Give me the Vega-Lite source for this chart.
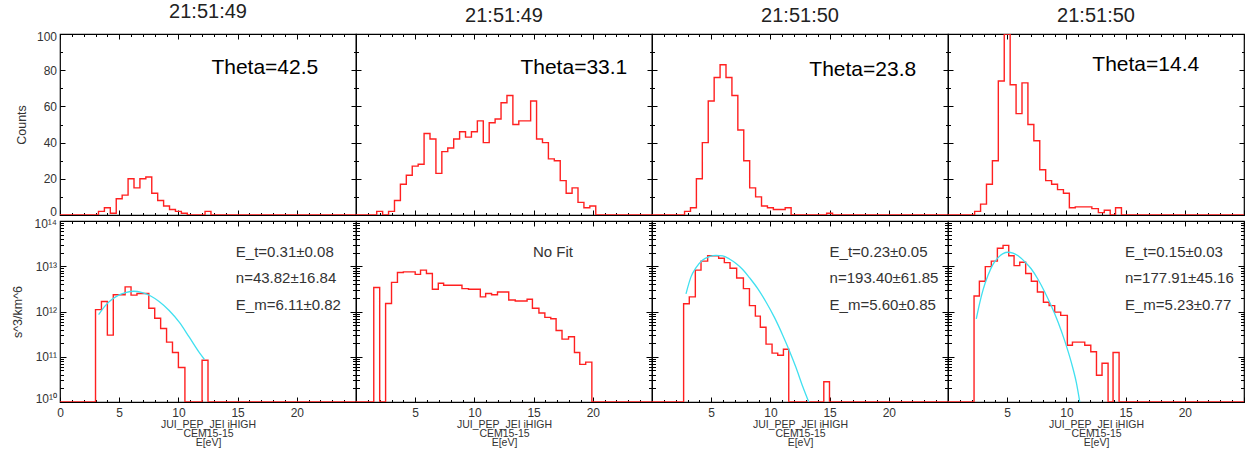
{
  "$schema": "https://vega.github.io/schema/vega-lite/v6.json",
  "background": "white",
  "padding": {"left": 10, "top": 1, "right": 5, "bottom": 0},
  "config": {
    "view": {"stroke": "black", "strokeWidth": 1.2},
    "axis": {"grid": false, "domain": false, "tickColor": "black", "tickWidth": 1, "labelFont": "Liberation Sans", "labelFontSize": 12, "labelColor": "#333", "titleFont": "Liberation Sans", "titleFontSize": 12.5, "titleFontWeight": "normal", "titleColor": "#333"},
    "title": {"font": "Liberation Sans", "fontSize": 20, "fontWeight": "normal", "color": "#222", "baseline": "alphabetic", "offset": 8, "frame": "group"}
  },
  "datasets": {
    "cnt": [
      {"p":1,"e":0,"c":0},{"p":1,"e":3.25,"c":2},{"p":1,"e":3.75,"c":4},{"p":1,"e":4.25,"c":1},{"p":1,"e":4.75,"c":9},{"p":1,"e":5.25,"c":11},{"p":1,"e":5.75,"c":20},{"p":1,"e":6.25,"c":15},{"p":1,"e":6.75,"c":20},{"p":1,"e":7.25,"c":21},{"p":1,"e":7.75,"c":12},{"p":1,"e":8.25,"c":8},{"p":1,"e":8.75,"c":5},{"p":1,"e":9.25,"c":3},{"p":1,"e":9.75,"c":2},{"p":1,"e":10.25,"c":1},{"p":1,"e":10.75,"c":0},{"p":1,"e":12.25,"c":2},{"p":1,"e":12.75,"c":0},{"p":1,"e":25,"c":0},
      {"p":2,"e":0,"c":0},{"p":2,"e":1.75,"c":2},{"p":2,"e":2.25,"c":0},{"p":2,"e":2.75,"c":2},{"p":2,"e":3.25,"c":8},{"p":2,"e":3.75,"c":17},{"p":2,"e":4.25,"c":22},{"p":2,"e":4.75,"c":27},{"p":2,"e":5.25,"c":28},{"p":2,"e":5.75,"c":45},{"p":2,"e":6.25,"c":42},{"p":2,"e":6.75,"c":23},{"p":2,"e":7.25,"c":35},{"p":2,"e":7.75,"c":37},{"p":2,"e":8.25,"c":42},{"p":2,"e":8.75,"c":46},{"p":2,"e":9.25,"c":43},{"p":2,"e":9.75,"c":46},{"p":2,"e":10.25,"c":52},{"p":2,"e":10.75,"c":40},{"p":2,"e":11.25,"c":51},{"p":2,"e":11.75,"c":53},{"p":2,"e":12.25,"c":62},{"p":2,"e":12.75,"c":66},{"p":2,"e":13.25,"c":50},{"p":2,"e":13.75,"c":52},{"p":2,"e":14.25,"c":52},{"p":2,"e":14.75,"c":63},{"p":2,"e":15.25,"c":42},{"p":2,"e":15.75,"c":40},{"p":2,"e":16.25,"c":31},{"p":2,"e":16.75,"c":30},{"p":2,"e":17.25,"c":19},{"p":2,"e":17.75,"c":12},{"p":2,"e":18.25,"c":15},{"p":2,"e":18.75,"c":7},{"p":2,"e":19.25,"c":4},{"p":2,"e":19.75,"c":5},{"p":2,"e":20.25,"c":0},{"p":2,"e":25,"c":0},
      {"p":3,"e":0,"c":0},{"p":3,"e":2.75,"c":2},{"p":3,"e":3.25,"c":4},{"p":3,"e":3.75,"c":20},{"p":3,"e":4.25,"c":40},{"p":3,"e":4.75,"c":63},{"p":3,"e":5.25,"c":76},{"p":3,"e":5.75,"c":83},{"p":3,"e":6.25,"c":76},{"p":3,"e":6.75,"c":66},{"p":3,"e":7.25,"c":47},{"p":3,"e":7.75,"c":30},{"p":3,"e":8.25,"c":15},{"p":3,"e":8.75,"c":10},{"p":3,"e":9.25,"c":5},{"p":3,"e":9.75,"c":4},{"p":3,"e":10.25,"c":3},{"p":3,"e":11.25,"c":4},{"p":3,"e":11.75,"c":0},{"p":3,"e":14.75,"c":1},{"p":3,"e":15.25,"c":0},{"p":3,"e":25,"c":0},
      {"p":4,"e":0,"c":0},{"p":4,"e":2.25,"c":2},{"p":4,"e":2.75,"c":6},{"p":4,"e":3.25,"c":17},{"p":4,"e":3.75,"c":30},{"p":4,"e":4.25,"c":74},{"p":4,"e":4.75,"c":100},{"p":4,"e":5.25,"c":72},{"p":4,"e":5.75,"c":56},{"p":4,"e":6.25,"c":73},{"p":4,"e":6.75,"c":50},{"p":4,"e":7.25,"c":41},{"p":4,"e":7.75,"c":25},{"p":4,"e":8.25,"c":19},{"p":4,"e":8.75,"c":17},{"p":4,"e":9.25,"c":14},{"p":4,"e":9.75,"c":12},{"p":4,"e":10.25,"c":4},{"p":4,"e":10.75,"c":4.5},{"p":4,"e":12.15,"c":3.5},{"p":4,"e":12.7,"c":1.3},{"p":4,"e":13.2,"c":2.6},{"p":4,"e":13.7,"c":0},{"p":4,"e":14.15,"c":4},{"p":4,"e":14.65,"c":0},{"p":4,"e":25,"c":0}
    ],
    "psd": [
      {"p":1,"e":0,"f":1e10},{"p":1,"e":3.0,"f":1.1e12},{"p":1,"e":3.5,"f":1.66e12},{"p":1,"e":4.0,"f":3.0e11},{"p":1,"e":4.5,"f":2.35e12},{"p":1,"e":5.5,"f":3.5e12},{"p":1,"e":6.0,"f":2.3e12},{"p":1,"e":6.5,"f":2.5e12},{"p":1,"e":7.5,"f":1.18e12},{"p":1,"e":8.0,"f":7.1e11},{"p":1,"e":8.5,"f":4.2e11},{"p":1,"e":9.0,"f":2.1e11},{"p":1,"e":9.5,"f":1.24e11},{"p":1,"e":10.0,"f":5.8e10},{"p":1,"e":10.55,"f":1e10},{"p":1,"e":12.0,"f":8.4e10},{"p":1,"e":12.5,"f":1e10},{"p":1,"e":25,"f":1e10},
      {"p":2,"e":0,"f":1e10},{"p":2,"e":1.5,"f":3.4e12},{"p":2,"e":2.0,"f":1e10},{"p":2,"e":2.5,"f":1.5e12},{"p":2,"e":3.0,"f":4.4e12},{"p":2,"e":3.5,"f":7.3e12},{"p":2,"e":4.0,"f":7.5e12},{"p":2,"e":5.0,"f":6.6e12},{"p":2,"e":5.45,"f":8.2e12},{"p":2,"e":5.95,"f":6.9e12},{"p":2,"e":6.45,"f":3.1e12},{"p":2,"e":6.95,"f":4.2e12},{"p":2,"e":7.4,"f":3.8e12},{"p":2,"e":8.95,"f":3.2e12},{"p":2,"e":9.5,"f":3.1e12},{"p":2,"e":10.5,"f":2.1e12},{"p":2,"e":10.95,"f":2.5e12},{"p":2,"e":11.45,"f":2.35e12},{"p":2,"e":11.95,"f":2.7e12},{"p":2,"e":12.9,"f":1.8e12},{"p":2,"e":13.45,"f":1.7e12},{"p":2,"e":14.45,"f":1.86e12},{"p":2,"e":14.9,"f":1.18e12},{"p":2,"e":15.45,"f":9.3e11},{"p":2,"e":15.95,"f":7.4e11},{"p":2,"e":16.45,"f":6.9e11},{"p":2,"e":16.9,"f":3.8e11},{"p":2,"e":17.4,"f":2.45e11},{"p":2,"e":17.95,"f":2.76e11},{"p":2,"e":18.45,"f":1.24e11},{"p":2,"e":18.9,"f":6.8e10},{"p":2,"e":19.4,"f":7.6e10},{"p":2,"e":19.92,"f":1e10},{"p":2,"e":25,"f":1e10},
      {"p":3,"e":0,"f":1e10},{"p":3,"e":2.67,"f":1.48e12},{"p":3,"e":3.15,"f":2.1e12},{"p":3,"e":3.66,"f":8.2e12},{"p":3,"e":4.14,"f":1.3e13},{"p":3,"e":4.7,"f":1.7e13},{"p":3,"e":5.63,"f":1.5e13},{"p":3,"e":6.11,"f":1.2e13},{"p":3,"e":6.59,"f":9e12},{"p":3,"e":7.15,"f":5.5e12},{"p":3,"e":7.72,"f":3.2e12},{"p":3,"e":8.23,"f":1.35e12},{"p":3,"e":8.73,"f":7.9e11},{"p":3,"e":9.15,"f":4.5e11},{"p":3,"e":9.63,"f":1.9e11},{"p":3,"e":10.14,"f":1.2e11},{"p":3,"e":10.62,"f":1.08e11},{"p":3,"e":11.1,"f":1.47e11},{"p":3,"e":11.55,"f":1e10},{"p":3,"e":14.51,"f":2.8e10},{"p":3,"e":14.99,"f":1e10},{"p":3,"e":25,"f":1e10},
      {"p":4,"e":0,"f":1e10},{"p":4,"e":2.2,"f":2.2e12},{"p":4,"e":2.65,"f":4.66e12},{"p":4,"e":3.15,"f":9.8e12},{"p":4,"e":3.66,"f":1.3e13},{"p":4,"e":4.17,"f":2.5e13},{"p":4,"e":4.65,"f":2.9e13},{"p":4,"e":5.13,"f":1.7e13},{"p":4,"e":5.58,"f":1.03e13},{"p":4,"e":6.06,"f":1.23e13},{"p":4,"e":6.56,"f":6.9e12},{"p":4,"e":7.04,"f":4.66e12},{"p":4,"e":7.55,"f":2.7e12},{"p":4,"e":8.06,"f":1.6e12},{"p":4,"e":8.54,"f":1.35e12},{"p":4,"e":9.01,"f":9.7e11},{"p":4,"e":9.52,"f":8.2e11},{"p":4,"e":10.08,"f":1.8e11},{"p":4,"e":10.51,"f":2.1e11},{"p":4,"e":10.99,"f":2.1e11},{"p":4,"e":11.55,"f":1.8e11},{"p":4,"e":12.06,"f":1.29e11},{"p":4,"e":12.54,"f":3.9e10},{"p":4,"e":13.01,"f":7.2e10},{"p":4,"e":13.52,"f":1e10},{"p":4,"e":13.94,"f":1.24e11},{"p":4,"e":14.45,"f":1e10},{"p":4,"e":25,"f":1e10}
    ],
    "fit": [
      {"p":1,"e":3.26,"f":8.5e11},{"p":1,"e":3.83,"f":1.35e12},{"p":1,"e":4.4,"f":1.86e12},{"p":1,"e":4.96,"f":2.3e12},{"p":1,"e":5.53,"f":2.6e12},{"p":1,"e":6.24,"f":2.8e12},{"p":1,"e":6.95,"f":2.6e12},{"p":1,"e":7.66,"f":2.2e12},{"p":1,"e":8.37,"f":1.66e12},{"p":1,"e":9.22,"f":1.05e12},{"p":1,"e":10.07,"f":5.8e11},{"p":1,"e":10.92,"f":2.7e11},{"p":1,"e":11.77,"f":1.23e11},{"p":1,"e":12.2,"f":8.7e10},
      {"p":3,"e":2.87,"f":2.46e12},{"p":3,"e":3.3,"f":5.9e12},{"p":3,"e":3.72,"f":9.3e12},{"p":3,"e":4.28,"f":1.38e13},{"p":3,"e":4.85,"f":1.63e13},{"p":3,"e":5.41,"f":1.74e13},{"p":3,"e":5.97,"f":1.7e13},{"p":3,"e":6.54,"f":1.45e13},{"p":3,"e":7.1,"f":1.15e13},{"p":3,"e":7.66,"f":8.5e12},{"p":3,"e":8.23,"f":5.6e12},{"p":3,"e":8.93,"f":3.2e12},{"p":3,"e":9.63,"f":1.62e12},{"p":3,"e":10.34,"f":7.4e11},{"p":3,"e":11.04,"f":3.0e11},{"p":3,"e":11.55,"f":1.47e11},{"p":3,"e":12.17,"f":5.7e10},{"p":3,"e":12.73,"f":2.2e10},{"p":3,"e":13.24,"f":1e10},
      {"p":4,"e":2.39,"f":6.9e11},{"p":4,"e":2.68,"f":1.55e12},{"p":4,"e":2.96,"f":3.0e12},{"p":4,"e":3.38,"f":6.3e12},{"p":4,"e":3.8,"f":1.1e13},{"p":4,"e":4.23,"f":1.55e13},{"p":4,"e":4.65,"f":1.9e13},{"p":4,"e":5.07,"f":2.04e13},{"p":4,"e":5.49,"f":1.95e13},{"p":4,"e":5.92,"f":1.7e13},{"p":4,"e":6.48,"f":1.26e13},{"p":4,"e":7.04,"f":8.7e12},{"p":4,"e":7.61,"f":5.1e12},{"p":4,"e":8.17,"f":2.7e12},{"p":4,"e":8.73,"f":1.32e12},{"p":4,"e":9.3,"f":5.8e11},{"p":4,"e":9.86,"f":2.24e11},{"p":4,"e":10.42,"f":7.4e10},{"p":4,"e":10.85,"f":2.6e10},{"p":4,"e":11.13,"f":1e10}
    ],
    "annT": [
      {"p":1,"e":17.3,"v":81.4,"t":"Theta=42.5"},{"p":2,"e":18.4,"v":81.4,"t":"Theta=33.1"},{"p":3,"e":17.8,"v":80.3,"t":"Theta=23.8"},{"p":4,"e":16.7,"v":83.1,"t":"Theta=14.4"}
    ],
    "annB": [
      {"p":1,"e":14.85,"v":2.04e13,"t":"E_t=0.31±0.08"},{"p":1,"e":14.85,"v":5.37e12,"t":"n=43.82±16.84"},{"p":1,"e":14.85,"v":1.38e12,"t":"E_m=6.11±0.82"},
      {"p":2,"e":14.95,"v":2.04e13,"t":"No Fit"},
      {"p":3,"e":15.0,"v":2.04e13,"t":"E_t=0.23±0.05"},{"p":3,"e":15.0,"v":5.37e12,"t":"n=193.40±61.85"},{"p":3,"e":15.0,"v":1.38e12,"t":"E_m=5.60±0.85"},
      {"p":4,"e":14.95,"v":2.04e13,"t":"E_t=0.15±0.03"},{"p":4,"e":14.95,"v":5.37e12,"t":"n=177.91±45.16"},{"p":4,"e":14.95,"v":1.38e12,"t":"E_m=5.23±0.77"}
    ]
  },
  "columns": 4,
  "spacing": {"row": 6, "column": 0},
  "align": "all",
  "bounds": "flush",
  "concat": [
    {
      "title": "21:51:49", "width": 296, "height": 181,
      "layer": [
        {"data": {"name": "cnt"}, "transform": [{"filter": "datum.p == 1"}],
         "mark": {"type": "line", "interpolate": "step-after", "color": "#ff2020", "strokeWidth": 1.4, "clip": true},
         "encoding": {
           "x": {"field": "e", "type": "quantitative", "scale": {"domain": [0, 25], "nice": false, "zero": false}, "axis": {"orient": "bottom", "values": [0,1,2,3,4,5,6,7,8,9,10,11,12,13,14,15,16,17,18,19,20,21,22,23,24,25], "labels": false, "title": null, "tickSize": {"condition": {"test": "datum.value % 5 === 0", "value": -5}, "value": -2.5}}},
           "y": {"field": "c", "type": "quantitative", "scale": {"domain": [0, 100], "nice": false}, "axis": {"orient": "left", "values": [0,10,20,30,40,50,60,70,80,90,100], "labelExpr": "datum.value % 20 === 0 ? datum.label : ''", "labelPadding": 8.5, "labelFlush": true, "labelFlushOffset": 3, "labelOverlap": false, "title": "Counts", "titlePadding": 8, "tickSize": {"condition": {"test": "datum.value % 20 === 0", "value": -5}, "value": -2.5}}}
         }},
        {"data": {"name": "cnt"}, "transform": [{"filter": "datum.p == 1"}],
         "mark": {"type": "line", "strokeOpacity": 0},
         "encoding": {
           "x": {"field": "e", "type": "quantitative", "scale": {"domain": [0, 25], "nice": false, "zero": false}, "axis": {"orient": "top", "values": [0,1,2,3,4,5,6,7,8,9,10,11,12,13,14,15,16,17,18,19,20,21,22,23,24,25], "labels": false, "title": null, "tickSize": {"condition": {"test": "datum.value % 5 === 0", "value": -5}, "value": -2.5}}},
           "y": {"field": "c", "type": "quantitative", "scale": {"domain": [0, 100], "nice": false}, "axis": {"orient": "right", "values": [0,10,20,30,40,50,60,70,80,90,100], "labels": false, "title": null, "tickSize": {"condition": {"test": "datum.value % 20 === 0", "value": -5}, "value": -2.5}}}
         }},
        {"data": {"name": "annT"}, "transform": [{"filter": "datum.p == 1"}],
         "mark": {"type": "text", "font": "Liberation Sans", "fontSize": 21, "color": "black", "align": "center", "baseline": "middle"},
         "encoding": {"x": {"field": "e", "type": "quantitative", "scale": {"domain": [0, 25], "nice": false, "zero": false}, "axis": null}, "y": {"field": "v", "type": "quantitative", "scale": {"domain": [0, 100], "nice": false}, "axis": null}, "text": {"field": "t"}}}
      ],
      "resolve": {"axis": {"x": "independent", "y": "independent"}}
    },
    {
      "title": "21:51:49", "width": 296, "height": 181,
      "layer": [
        {"data": {"name": "cnt"}, "transform": [{"filter": "datum.p == 2"}],
         "mark": {"type": "line", "interpolate": "step-after", "color": "#ff2020", "strokeWidth": 1.4, "clip": true},
         "encoding": {
           "x": {"field": "e", "type": "quantitative", "scale": {"domain": [0, 25], "nice": false, "zero": false}, "axis": {"orient": "bottom", "values": [0,1,2,3,4,5,6,7,8,9,10,11,12,13,14,15,16,17,18,19,20,21,22,23,24,25], "labels": false, "title": null, "tickSize": {"condition": {"test": "datum.value % 5 === 0", "value": -5}, "value": -2.5}}},
           "y": {"field": "c", "type": "quantitative", "scale": {"domain": [0, 100], "nice": false}, "axis": {"orient": "left", "values": [0,10,20,30,40,50,60,70,80,90,100], "labels": false, "title": null, "tickSize": {"condition": {"test": "datum.value % 20 === 0", "value": -5}, "value": -2.5}}}
         }},
        {"data": {"name": "cnt"}, "transform": [{"filter": "datum.p == 2"}],
         "mark": {"type": "line", "strokeOpacity": 0},
         "encoding": {
           "x": {"field": "e", "type": "quantitative", "scale": {"domain": [0, 25], "nice": false, "zero": false}, "axis": {"orient": "top", "values": [0,1,2,3,4,5,6,7,8,9,10,11,12,13,14,15,16,17,18,19,20,21,22,23,24,25], "labels": false, "title": null, "tickSize": {"condition": {"test": "datum.value % 5 === 0", "value": -5}, "value": -2.5}}},
           "y": {"field": "c", "type": "quantitative", "scale": {"domain": [0, 100], "nice": false}, "axis": {"orient": "right", "values": [0,10,20,30,40,50,60,70,80,90,100], "labels": false, "title": null, "tickSize": {"condition": {"test": "datum.value % 20 === 0", "value": -5}, "value": -2.5}}}
         }},
        {"data": {"name": "annT"}, "transform": [{"filter": "datum.p == 2"}],
         "mark": {"type": "text", "font": "Liberation Sans", "fontSize": 21, "color": "black", "align": "center", "baseline": "middle"},
         "encoding": {"x": {"field": "e", "type": "quantitative", "scale": {"domain": [0, 25], "nice": false, "zero": false}, "axis": null}, "y": {"field": "v", "type": "quantitative", "scale": {"domain": [0, 100], "nice": false}, "axis": null}, "text": {"field": "t"}}}
      ],
      "resolve": {"axis": {"x": "independent", "y": "independent"}}
    },
    {
      "title": "21:51:50", "width": 296, "height": 181,
      "layer": [
        {"data": {"name": "cnt"}, "transform": [{"filter": "datum.p == 3"}],
         "mark": {"type": "line", "interpolate": "step-after", "color": "#ff2020", "strokeWidth": 1.4, "clip": true},
         "encoding": {
           "x": {"field": "e", "type": "quantitative", "scale": {"domain": [0, 25], "nice": false, "zero": false}, "axis": {"orient": "bottom", "values": [0,1,2,3,4,5,6,7,8,9,10,11,12,13,14,15,16,17,18,19,20,21,22,23,24,25], "labels": false, "title": null, "tickSize": {"condition": {"test": "datum.value % 5 === 0", "value": -5}, "value": -2.5}}},
           "y": {"field": "c", "type": "quantitative", "scale": {"domain": [0, 100], "nice": false}, "axis": {"orient": "left", "values": [0,10,20,30,40,50,60,70,80,90,100], "labels": false, "title": null, "tickSize": {"condition": {"test": "datum.value % 20 === 0", "value": -5}, "value": -2.5}}}
         }},
        {"data": {"name": "cnt"}, "transform": [{"filter": "datum.p == 3"}],
         "mark": {"type": "line", "strokeOpacity": 0},
         "encoding": {
           "x": {"field": "e", "type": "quantitative", "scale": {"domain": [0, 25], "nice": false, "zero": false}, "axis": {"orient": "top", "values": [0,1,2,3,4,5,6,7,8,9,10,11,12,13,14,15,16,17,18,19,20,21,22,23,24,25], "labels": false, "title": null, "tickSize": {"condition": {"test": "datum.value % 5 === 0", "value": -5}, "value": -2.5}}},
           "y": {"field": "c", "type": "quantitative", "scale": {"domain": [0, 100], "nice": false}, "axis": {"orient": "right", "values": [0,10,20,30,40,50,60,70,80,90,100], "labels": false, "title": null, "tickSize": {"condition": {"test": "datum.value % 20 === 0", "value": -5}, "value": -2.5}}}
         }},
        {"data": {"name": "annT"}, "transform": [{"filter": "datum.p == 3"}],
         "mark": {"type": "text", "font": "Liberation Sans", "fontSize": 21, "color": "black", "align": "center", "baseline": "middle"},
         "encoding": {"x": {"field": "e", "type": "quantitative", "scale": {"domain": [0, 25], "nice": false, "zero": false}, "axis": null}, "y": {"field": "v", "type": "quantitative", "scale": {"domain": [0, 100], "nice": false}, "axis": null}, "text": {"field": "t"}}}
      ],
      "resolve": {"axis": {"x": "independent", "y": "independent"}}
    },
    {
      "title": "21:51:50", "width": 296, "height": 181,
      "layer": [
        {"data": {"name": "cnt"}, "transform": [{"filter": "datum.p == 4"}],
         "mark": {"type": "line", "interpolate": "step-after", "color": "#ff2020", "strokeWidth": 1.4, "clip": true},
         "encoding": {
           "x": {"field": "e", "type": "quantitative", "scale": {"domain": [0, 25], "nice": false, "zero": false}, "axis": {"orient": "bottom", "values": [0,1,2,3,4,5,6,7,8,9,10,11,12,13,14,15,16,17,18,19,20,21,22,23,24,25], "labels": false, "title": null, "tickSize": {"condition": {"test": "datum.value % 5 === 0", "value": -5}, "value": -2.5}}},
           "y": {"field": "c", "type": "quantitative", "scale": {"domain": [0, 100], "nice": false}, "axis": {"orient": "left", "values": [0,10,20,30,40,50,60,70,80,90,100], "labels": false, "title": null, "tickSize": {"condition": {"test": "datum.value % 20 === 0", "value": -5}, "value": -2.5}}}
         }},
        {"data": {"name": "cnt"}, "transform": [{"filter": "datum.p == 4"}],
         "mark": {"type": "line", "strokeOpacity": 0},
         "encoding": {
           "x": {"field": "e", "type": "quantitative", "scale": {"domain": [0, 25], "nice": false, "zero": false}, "axis": {"orient": "top", "values": [0,1,2,3,4,5,6,7,8,9,10,11,12,13,14,15,16,17,18,19,20,21,22,23,24,25], "labels": false, "title": null, "tickSize": {"condition": {"test": "datum.value % 5 === 0", "value": -5}, "value": -2.5}}},
           "y": {"field": "c", "type": "quantitative", "scale": {"domain": [0, 100], "nice": false}, "axis": {"orient": "right", "values": [0,10,20,30,40,50,60,70,80,90,100], "labels": false, "title": null, "tickSize": {"condition": {"test": "datum.value % 20 === 0", "value": -5}, "value": -2.5}}}
         }},
        {"data": {"name": "annT"}, "transform": [{"filter": "datum.p == 4"}],
         "mark": {"type": "text", "font": "Liberation Sans", "fontSize": 21, "color": "black", "align": "center", "baseline": "middle"},
         "encoding": {"x": {"field": "e", "type": "quantitative", "scale": {"domain": [0, 25], "nice": false, "zero": false}, "axis": null}, "y": {"field": "v", "type": "quantitative", "scale": {"domain": [0, 100], "nice": false}, "axis": null}, "text": {"field": "t"}}}
      ],
      "resolve": {"axis": {"x": "independent", "y": "independent"}}
    },
    {
      "width": 296, "height": 181,
      "layer": [
        {"data": {"name": "psd"}, "transform": [{"filter": "datum.p == 1"}],
         "mark": {"type": "line", "interpolate": "step-after", "color": "#ff2020", "strokeWidth": 1.4, "clip": true},
         "encoding": {
           "x": {"field": "e", "type": "quantitative", "scale": {"domain": [0, 25], "nice": false, "zero": false}, "axis": {"orient": "bottom", "values": [0,1,2,3,4,5,6,7,8,9,10,11,12,13,14,15,16,17,18,19,20,21,22,23,24,25], "labelExpr": "datum.value % 5 === 0 && datum.value < 25 ? datum.label : ''", "labelPadding": 10, "labelFlush": false, "labelOverlap": false, "title": ["JUI_PEP_JEI iHIGH", "CEM15-15", "E[eV]"], "titleFontSize": 10.5, "titleLineHeight": 9, "titlePadding": -1, "tickSize": {"condition": {"test": "datum.value % 5 === 0", "value": -5}, "value": -2.5}}},
           "y": {"field": "f", "type": "quantitative", "scale": {"type": "log", "domain": [1e10, 1e14], "nice": false}, "axis": {"orient": "left", "values": [1e10,2e10,3e10,4e10,5e10,6e10,7e10,8e10,9e10,1e11,2e11,3e11,4e11,5e11,6e11,7e11,8e11,9e11,1e12,2e12,3e12,4e12,5e12,6e12,7e12,8e12,9e12,1e13,2e13,3e13,4e13,5e13,6e13,7e13,8e13,9e13,1e14], "labelExpr": "abs(log(datum.value)/LN10 - round(log(datum.value)/LN10)) >= 0.001 ? '' : round(log(datum.value)/LN10) == 10 ? '10¹⁰' : round(log(datum.value)/LN10) == 11 ? '10¹¹' : round(log(datum.value)/LN10) == 12 ? '10¹²' : round(log(datum.value)/LN10) == 13 ? '10¹³' : '10¹⁴'", "labelPadding": 9.5, "labelFlush": true, "labelFlushOffset": 3, "labelOverlap": false, "title": "s^3/km^6", "titlePadding": 10, "tickSize": {"condition": {"test": "abs(log(datum.value)/LN10 - round(log(datum.value)/LN10)) < 0.001", "value": -6}, "value": -3.5}}}
         }},
        {"data": {"name": "fit"}, "transform": [{"filter": "datum.p == 1"}],
         "mark": {"type": "line", "interpolate": "monotone", "color": "#40e0f0", "strokeWidth": 1.3, "clip": true},
         "encoding": {"x": {"field": "e", "type": "quantitative", "scale": {"domain": [0, 25], "nice": false, "zero": false}, "axis": null}, "y": {"field": "f", "type": "quantitative", "scale": {"type": "log", "domain": [1e10, 1e14], "nice": false}, "axis": null}}},
        {"data": {"name": "psd"}, "transform": [{"filter": "datum.p == 1"}],
         "mark": {"type": "line", "strokeOpacity": 0},
         "encoding": {
           "x": {"field": "e", "type": "quantitative", "scale": {"domain": [0, 25], "nice": false, "zero": false}, "axis": {"orient": "top", "values": [0,1,2,3,4,5,6,7,8,9,10,11,12,13,14,15,16,17,18,19,20,21,22,23,24,25], "labels": false, "title": null, "tickSize": {"condition": {"test": "datum.value % 5 === 0", "value": -5}, "value": -2.5}}},
           "y": {"field": "f", "type": "quantitative", "scale": {"type": "log", "domain": [1e10, 1e14], "nice": false}, "axis": {"orient": "right", "values": [1e10,2e10,3e10,4e10,5e10,6e10,7e10,8e10,9e10,1e11,2e11,3e11,4e11,5e11,6e11,7e11,8e11,9e11,1e12,2e12,3e12,4e12,5e12,6e12,7e12,8e12,9e12,1e13,2e13,3e13,4e13,5e13,6e13,7e13,8e13,9e13,1e14], "labels": false, "title": null, "tickSize": {"condition": {"test": "abs(log(datum.value)/LN10 - round(log(datum.value)/LN10)) < 0.001", "value": -6}, "value": -3.5}}}
         }},
        {"data": {"name": "annB"}, "transform": [{"filter": "datum.p == 1"}],
         "mark": {"type": "text", "font": "Liberation Sans", "fontSize": 15, "color": "#333", "align": "left", "baseline": "middle"},
         "encoding": {"x": {"field": "e", "type": "quantitative", "scale": {"domain": [0, 25], "nice": false, "zero": false}, "axis": null}, "y": {"field": "v", "type": "quantitative", "scale": {"type": "log", "domain": [1e10, 1e14], "nice": false}, "axis": null}, "text": {"field": "t"}}}
      ],
      "resolve": {"axis": {"x": "independent", "y": "independent"}}
    },
    {
      "width": 296, "height": 181,
      "layer": [
        {"data": {"name": "psd"}, "transform": [{"filter": "datum.p == 2"}],
         "mark": {"type": "line", "interpolate": "step-after", "color": "#ff2020", "strokeWidth": 1.4, "clip": true},
         "encoding": {
           "x": {"field": "e", "type": "quantitative", "scale": {"domain": [0, 25], "nice": false, "zero": false}, "axis": {"orient": "bottom", "values": [0,1,2,3,4,5,6,7,8,9,10,11,12,13,14,15,16,17,18,19,20,21,22,23,24,25], "labelExpr": "datum.value % 5 === 0 && datum.value > 0 && datum.value < 25 ? datum.label : ''", "labelPadding": 10, "labelFlush": false, "labelOverlap": false, "title": ["JUI_PEP_JEI iHIGH", "CEM15-15", "E[eV]"], "titleFontSize": 10.5, "titleLineHeight": 9, "titlePadding": -1, "tickSize": {"condition": {"test": "datum.value % 5 === 0", "value": -5}, "value": -2.5}}},
           "y": {"field": "f", "type": "quantitative", "scale": {"type": "log", "domain": [1e10, 1e14], "nice": false}, "axis": {"orient": "left", "values": [1e10,2e10,3e10,4e10,5e10,6e10,7e10,8e10,9e10,1e11,2e11,3e11,4e11,5e11,6e11,7e11,8e11,9e11,1e12,2e12,3e12,4e12,5e12,6e12,7e12,8e12,9e12,1e13,2e13,3e13,4e13,5e13,6e13,7e13,8e13,9e13,1e14], "labels": false, "title": null, "tickSize": {"condition": {"test": "abs(log(datum.value)/LN10 - round(log(datum.value)/LN10)) < 0.001", "value": -6}, "value": -3.5}}}
         }},
        {"data": {"name": "psd"}, "transform": [{"filter": "datum.p == 2"}],
         "mark": {"type": "line", "strokeOpacity": 0},
         "encoding": {
           "x": {"field": "e", "type": "quantitative", "scale": {"domain": [0, 25], "nice": false, "zero": false}, "axis": {"orient": "top", "values": [0,1,2,3,4,5,6,7,8,9,10,11,12,13,14,15,16,17,18,19,20,21,22,23,24,25], "labels": false, "title": null, "tickSize": {"condition": {"test": "datum.value % 5 === 0", "value": -5}, "value": -2.5}}},
           "y": {"field": "f", "type": "quantitative", "scale": {"type": "log", "domain": [1e10, 1e14], "nice": false}, "axis": {"orient": "right", "values": [1e10,2e10,3e10,4e10,5e10,6e10,7e10,8e10,9e10,1e11,2e11,3e11,4e11,5e11,6e11,7e11,8e11,9e11,1e12,2e12,3e12,4e12,5e12,6e12,7e12,8e12,9e12,1e13,2e13,3e13,4e13,5e13,6e13,7e13,8e13,9e13,1e14], "labels": false, "title": null, "tickSize": {"condition": {"test": "abs(log(datum.value)/LN10 - round(log(datum.value)/LN10)) < 0.001", "value": -6}, "value": -3.5}}}
         }},
        {"data": {"name": "annB"}, "transform": [{"filter": "datum.p == 2"}],
         "mark": {"type": "text", "font": "Liberation Sans", "fontSize": 15, "color": "#333", "align": "left", "baseline": "middle"},
         "encoding": {"x": {"field": "e", "type": "quantitative", "scale": {"domain": [0, 25], "nice": false, "zero": false}, "axis": null}, "y": {"field": "v", "type": "quantitative", "scale": {"type": "log", "domain": [1e10, 1e14], "nice": false}, "axis": null}, "text": {"field": "t"}}}
      ],
      "resolve": {"axis": {"x": "independent", "y": "independent"}}
    },
    {
      "width": 296, "height": 181,
      "layer": [
        {"data": {"name": "psd"}, "transform": [{"filter": "datum.p == 3"}],
         "mark": {"type": "line", "interpolate": "step-after", "color": "#ff2020", "strokeWidth": 1.4, "clip": true},
         "encoding": {
           "x": {"field": "e", "type": "quantitative", "scale": {"domain": [0, 25], "nice": false, "zero": false}, "axis": {"orient": "bottom", "values": [0,1,2,3,4,5,6,7,8,9,10,11,12,13,14,15,16,17,18,19,20,21,22,23,24,25], "labelExpr": "datum.value % 5 === 0 && datum.value > 0 && datum.value < 25 ? datum.label : ''", "labelPadding": 10, "labelFlush": false, "labelOverlap": false, "title": ["JUI_PEP_JEI iHIGH", "CEM15-15", "E[eV]"], "titleFontSize": 10.5, "titleLineHeight": 9, "titlePadding": -1, "tickSize": {"condition": {"test": "datum.value % 5 === 0", "value": -5}, "value": -2.5}}},
           "y": {"field": "f", "type": "quantitative", "scale": {"type": "log", "domain": [1e10, 1e14], "nice": false}, "axis": {"orient": "left", "values": [1e10,2e10,3e10,4e10,5e10,6e10,7e10,8e10,9e10,1e11,2e11,3e11,4e11,5e11,6e11,7e11,8e11,9e11,1e12,2e12,3e12,4e12,5e12,6e12,7e12,8e12,9e12,1e13,2e13,3e13,4e13,5e13,6e13,7e13,8e13,9e13,1e14], "labels": false, "title": null, "tickSize": {"condition": {"test": "abs(log(datum.value)/LN10 - round(log(datum.value)/LN10)) < 0.001", "value": -6}, "value": -3.5}}}
         }},
        {"data": {"name": "fit"}, "transform": [{"filter": "datum.p == 3"}],
         "mark": {"type": "line", "interpolate": "monotone", "color": "#40e0f0", "strokeWidth": 1.3, "clip": true},
         "encoding": {"x": {"field": "e", "type": "quantitative", "scale": {"domain": [0, 25], "nice": false, "zero": false}, "axis": null}, "y": {"field": "f", "type": "quantitative", "scale": {"type": "log", "domain": [1e10, 1e14], "nice": false}, "axis": null}}},
        {"data": {"name": "psd"}, "transform": [{"filter": "datum.p == 3"}],
         "mark": {"type": "line", "strokeOpacity": 0},
         "encoding": {
           "x": {"field": "e", "type": "quantitative", "scale": {"domain": [0, 25], "nice": false, "zero": false}, "axis": {"orient": "top", "values": [0,1,2,3,4,5,6,7,8,9,10,11,12,13,14,15,16,17,18,19,20,21,22,23,24,25], "labels": false, "title": null, "tickSize": {"condition": {"test": "datum.value % 5 === 0", "value": -5}, "value": -2.5}}},
           "y": {"field": "f", "type": "quantitative", "scale": {"type": "log", "domain": [1e10, 1e14], "nice": false}, "axis": {"orient": "right", "values": [1e10,2e10,3e10,4e10,5e10,6e10,7e10,8e10,9e10,1e11,2e11,3e11,4e11,5e11,6e11,7e11,8e11,9e11,1e12,2e12,3e12,4e12,5e12,6e12,7e12,8e12,9e12,1e13,2e13,3e13,4e13,5e13,6e13,7e13,8e13,9e13,1e14], "labels": false, "title": null, "tickSize": {"condition": {"test": "abs(log(datum.value)/LN10 - round(log(datum.value)/LN10)) < 0.001", "value": -6}, "value": -3.5}}}
         }},
        {"data": {"name": "annB"}, "transform": [{"filter": "datum.p == 3"}],
         "mark": {"type": "text", "font": "Liberation Sans", "fontSize": 15, "color": "#333", "align": "left", "baseline": "middle"},
         "encoding": {"x": {"field": "e", "type": "quantitative", "scale": {"domain": [0, 25], "nice": false, "zero": false}, "axis": null}, "y": {"field": "v", "type": "quantitative", "scale": {"type": "log", "domain": [1e10, 1e14], "nice": false}, "axis": null}, "text": {"field": "t"}}}
      ],
      "resolve": {"axis": {"x": "independent", "y": "independent"}}
    },
    {
      "width": 296, "height": 181,
      "layer": [
        {"data": {"name": "psd"}, "transform": [{"filter": "datum.p == 4"}],
         "mark": {"type": "line", "interpolate": "step-after", "color": "#ff2020", "strokeWidth": 1.4, "clip": true},
         "encoding": {
           "x": {"field": "e", "type": "quantitative", "scale": {"domain": [0, 25], "nice": false, "zero": false}, "axis": {"orient": "bottom", "values": [0,1,2,3,4,5,6,7,8,9,10,11,12,13,14,15,16,17,18,19,20,21,22,23,24,25], "labelExpr": "datum.value % 5 === 0 && datum.value > 0 && datum.value < 25 ? datum.label : ''", "labelPadding": 10, "labelFlush": false, "labelOverlap": false, "title": ["JUI_PEP_JEI iHIGH", "CEM15-15", "E[eV]"], "titleFontSize": 10.5, "titleLineHeight": 9, "titlePadding": -1, "tickSize": {"condition": {"test": "datum.value % 5 === 0", "value": -5}, "value": -2.5}}},
           "y": {"field": "f", "type": "quantitative", "scale": {"type": "log", "domain": [1e10, 1e14], "nice": false}, "axis": {"orient": "left", "values": [1e10,2e10,3e10,4e10,5e10,6e10,7e10,8e10,9e10,1e11,2e11,3e11,4e11,5e11,6e11,7e11,8e11,9e11,1e12,2e12,3e12,4e12,5e12,6e12,7e12,8e12,9e12,1e13,2e13,3e13,4e13,5e13,6e13,7e13,8e13,9e13,1e14], "labels": false, "title": null, "tickSize": {"condition": {"test": "abs(log(datum.value)/LN10 - round(log(datum.value)/LN10)) < 0.001", "value": -6}, "value": -3.5}}}
         }},
        {"data": {"name": "fit"}, "transform": [{"filter": "datum.p == 4"}],
         "mark": {"type": "line", "interpolate": "monotone", "color": "#40e0f0", "strokeWidth": 1.3, "clip": true},
         "encoding": {"x": {"field": "e", "type": "quantitative", "scale": {"domain": [0, 25], "nice": false, "zero": false}, "axis": null}, "y": {"field": "f", "type": "quantitative", "scale": {"type": "log", "domain": [1e10, 1e14], "nice": false}, "axis": null}}},
        {"data": {"name": "psd"}, "transform": [{"filter": "datum.p == 4"}],
         "mark": {"type": "line", "strokeOpacity": 0},
         "encoding": {
           "x": {"field": "e", "type": "quantitative", "scale": {"domain": [0, 25], "nice": false, "zero": false}, "axis": {"orient": "top", "values": [0,1,2,3,4,5,6,7,8,9,10,11,12,13,14,15,16,17,18,19,20,21,22,23,24,25], "labels": false, "title": null, "tickSize": {"condition": {"test": "datum.value % 5 === 0", "value": -5}, "value": -2.5}}},
           "y": {"field": "f", "type": "quantitative", "scale": {"type": "log", "domain": [1e10, 1e14], "nice": false}, "axis": {"orient": "right", "values": [1e10,2e10,3e10,4e10,5e10,6e10,7e10,8e10,9e10,1e11,2e11,3e11,4e11,5e11,6e11,7e11,8e11,9e11,1e12,2e12,3e12,4e12,5e12,6e12,7e12,8e12,9e12,1e13,2e13,3e13,4e13,5e13,6e13,7e13,8e13,9e13,1e14], "labels": false, "title": null, "tickSize": {"condition": {"test": "abs(log(datum.value)/LN10 - round(log(datum.value)/LN10)) < 0.001", "value": -6}, "value": -3.5}}}
         }},
        {"data": {"name": "annB"}, "transform": [{"filter": "datum.p == 4"}],
         "mark": {"type": "text", "font": "Liberation Sans", "fontSize": 15, "color": "#333", "align": "left", "baseline": "middle"},
         "encoding": {"x": {"field": "e", "type": "quantitative", "scale": {"domain": [0, 25], "nice": false, "zero": false}, "axis": null}, "y": {"field": "v", "type": "quantitative", "scale": {"type": "log", "domain": [1e10, 1e14], "nice": false}, "axis": null}, "text": {"field": "t"}}}
      ],
      "resolve": {"axis": {"x": "independent", "y": "independent"}}
    }
  ]
}
